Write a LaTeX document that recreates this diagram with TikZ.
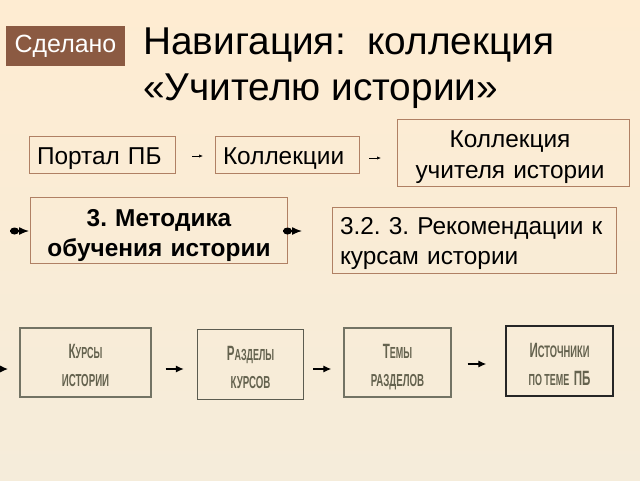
\documentclass[tikz,border=0pt]{standalone}
\usepackage{graphicx}
\usepackage{fontspec}
\setmainfont{Liberation Sans}
\usetikzlibrary{arrows.meta}
\definecolor{bgtop}{RGB}{254,236,210}
\definecolor{bgbot}{RGB}{245,236,218}
\definecolor{boxline}{RGB}{176,128,100}
\definecolor{badge}{RGB}{139,90,66}
\definecolor{imgline}{RGB}{115,115,100}
\definecolor{imgtext}{RGB}{100,98,78}
\newcommand{\narrowtxt}[2]{\scalebox{0.56}[1]{\fontsize{#1}{#1}\selectfont\bfseries #2}}
\newcommand{\shifted}[3]{\raisebox{-#1}[0pt][0pt]{\begin{tabular}{@{}#2@{}}#3\end{tabular}}}
\frenchspacing
\tikzset{
  x=0.75pt,y=-0.75pt,
  navbox/.style={draw=boxline,line width=0.75pt,inner xsep=6pt,inner ysep=0pt,text=black,font=\fontsize{18.3}{22.5}\selectfont},
  imgbox/.style={draw=imgline,line width=1.1pt,inner sep=0pt,text=imgtext,font=\fontsize{12}{21}\selectfont},
  tinyarrow/.style={-{Latex[length=3pt,width=2.5pt]},line width=0.5pt,black},
  medarrow/.style={-{Latex[length=6pt,width=5.5pt]},line width=1pt,black},
  dblarrow/.style={-{Latex[length=7.5pt,width=6pt]},line width=1pt,black},
}
\begin{document}
\begin{tikzpicture}
\useasboundingbox (0,0) rectangle (640,480);
\shade[top color=bgtop,bottom color=bgbot] (0,0) rectangle (640,480);
\node[fill=badge,text=white,inner sep=0pt,minimum width=89.25pt,minimum height=30pt,font=\fontsize{18.7}{22}\selectfont] (done) at (65.5,46) {Сделано};
\node[anchor=north west,inner sep=0pt,align=left,font=\fontsize{29.1}{34.75}\selectfont,text=black] (title) at (143,27.5) {Навигация:\ \ коллекция\\«Учителю истории»};
\node[navbox,text width=97.5pt,minimum height=27.75pt,align=left] (portal) at (102,154.5) {\shifted{7.3pt}{l}{Портал ПБ}};
\node[navbox,text width=96pt,minimum height=27.75pt,align=left] (coll) at (287,154.5) {\shifted{7.3pt}{l}{Коллекции}};
\node[navbox,text width=162pt,minimum height=50.25pt,align=center,font=\fontsize{18.3}{23}\selectfont] (teacher) at (513,152.5) {\hspace{-4.5pt}\shifted{7.5pt}{c}{Коллекция\\учителя истории}};
\node[navbox,text width=180.75pt,minimum height=49.5pt,align=center,font=\fontsize{18.3}{22.5}\selectfont\bfseries] (method) at (159,230) {\shifted{8.25pt}{c}{3. Методика\\обучения истории}};
\node[navbox,text width=201pt,minimum height=49.5pt,align=left] (rec) at (474,240) {\shifted{7.1pt}{l}{3.2. 3. Рекомендации к\\курсам истории}};
\node[imgbox,minimum width=98.25pt,minimum height=51.75pt] (kursy) at (85.5,362.5) {\shifted{6.4pt}{c}{\narrowtxt{15.5}{К}\narrowtxt{12}{УРСЫ}\\\narrowtxt{13}{ИСТОРИИ}}};
\node[imgbox,draw=imgline!80!black,minimum width=79.5pt,minimum height=52.5pt] (razd) at (250.5,364.5) {\shifted{6pt}{c}{\narrowtxt{15.5}{Р}\narrowtxt{12}{АЗДЕЛЫ}\\\narrowtxt{13}{КУРСОВ}}};
\node[imgbox,minimum width=80.25pt,minimum height=51.75pt] (temy) at (397.5,362.5) {\shifted{6.4pt}{c}{\narrowtxt{15.5}{Т}\narrowtxt{12}{ЕМЫ}\\\narrowtxt{13}{РАЗДЕЛОВ}}};
\node[imgbox,draw=black!85,minimum width=80.25pt,minimum height=52.5pt] (ist) at (559.5,361) {\shifted{6.75pt}{c}{\narrowtxt{15.5}{И}\narrowtxt{12.5}{СТОЧНИКИ}\\\narrowtxt{12}{ПО ТЕМЕ} \narrowtxt{15.5}{ПБ}}};
\coordinate (a1s) at (192,156); \coordinate (a1e) at (203,156);
\coordinate (a2s) at (369,158); \coordinate (a2e) at (381,158);
\draw[tinyarrow] (a1s) -- (a1e);
\draw[tinyarrow] (a2s) -- (a2e);
\coordinate (d1s) at (10,231); \coordinate (d1e) at (29,231);
\coordinate (d2s) at (283,231); \coordinate (d2e) at (302,231);
\foreach \s/\e in {d1s/d1e,d2s/d2e}{
  \draw[dblarrow] (\s) -- (\e);
  \fill[black] (\s) ++(4.5,0) ellipse[x radius=4.5,y radius=3.5];
}
\coordinate (b0s) at (0,369); \coordinate (b0e) at (8,369);
\draw[medarrow] (b0s) -- (b0e);
\draw[medarrow,shorten <=10.5pt,shorten >=9.75pt] (kursy.east |- 0,369) -- (razd.west |- 0,369);
\draw[medarrow,shorten <=6.75pt,shorten >=9pt] (razd.east |- 0,369) -- (temy.west |- 0,369);
\draw[medarrow,shorten <=12pt,shorten >=14.25pt] (temy.east |- 0,364) -- (ist.west |- 0,364);
\end{tikzpicture}
\end{document}
